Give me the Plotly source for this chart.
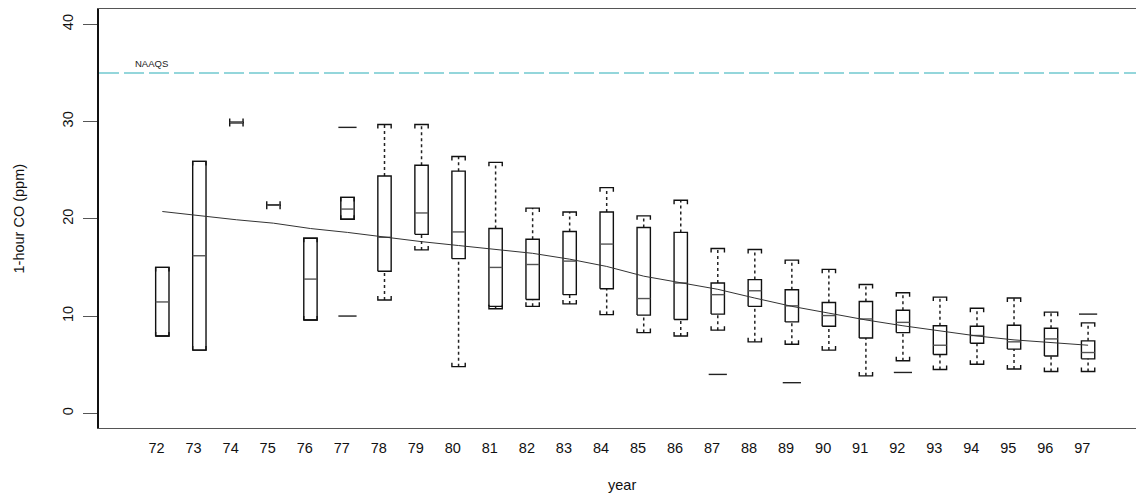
import plotly.graph_objects as go

# ---- data ----
years = [72, 73, 74, 75, 76, 77, 78, 79, 80, 81, 82, 83, 84, 85, 86, 87, 88, 89, 90, 91, 92, 93, 94, 95, 96, 97]
q1 =    [7.95, 6.5, 29.9, 21.4, 9.6, 19.95, 14.6, 18.4, 15.9, 11.0, 11.7, 12.2, 12.8, 10.1, 9.65, 10.2, 11.0, 9.4, 8.95, 7.75, 8.3, 6.05, 7.2, 6.6, 5.9, 5.6]
med =   [11.45, 16.2, 29.9, 21.4, 13.8, 21.0, 18.1, 20.6, 18.65, 15.0, 15.3, 15.65, 17.4, 11.8, 13.4, 12.2, 12.6, 11.05, 10.05, 9.7, 9.35, 7.0, 8.0, 7.35, 7.65, 6.25]
q3 =    [15.0, 25.9, 29.9, 21.4, 18.0, 22.2, 24.4, 25.5, 24.9, 19.0, 17.9, 18.7, 20.7, 19.1, 18.6, 13.4, 13.75, 12.7, 11.4, 11.5, 10.6, 9.0, 8.95, 9.05, 8.75, 7.45]
lo =    [7.95, 6.5, 29.9, 21.4, 9.6, 19.95, 11.65, 16.8, 4.8, 10.75, 11.0, 11.25, 10.15, 8.3, 7.95, 8.55, 7.35, 7.1, 6.5, 3.85, 5.4, 4.5, 5.05, 4.55, 4.3, 4.3]
hi =    [15.0, 25.9, 29.9, 21.4, 18.0, 22.2, 29.7, 29.7, 26.4, 25.8, 21.1, 20.7, 23.2, 20.3, 21.9, 16.95, 16.85, 15.75, 14.8, 13.25, 12.4, 11.95, 10.8, 11.85, 10.4, 9.3]
out_year = [77, 77, 87, 89, 92, 97]
out_val =  [29.4, 10.0, 4.0, 3.15, 4.2, 10.2]
smooth = [20.75, 20.3, 19.9, 19.55, 19.0, 18.6, 18.1, 17.65, 17.25, 16.85, 16.45, 15.85, 15.1, 14.1, 13.45, 12.75, 11.85, 11.0, 10.3, 9.6, 9.0, 8.5, 7.95, 7.55, 7.25, 7.0]
tick_labels = [str(y) for y in years]
naaqs = 35
y_ticks = [0, 10, 20, 30, 40]

HW = 0.18     # half box width (x units)
CAP = 0.41    # staple end tick length (y units)

bx, by = [], []
mx, my = [], []
wx, wy = [], []
sx, sy = [], []
for x, a, m, b, l, h in zip(years, q1, med, q3, lo, hi):
    bx += [x - HW, x + HW, x + HW, x - HW, x - HW, None]
    by += [a, a, b, b, a, None]
    mx += [x - HW, x + HW, None]
    my += [m, m, None]
    if h > b:
        wx += [x, x, None]
        wy += [b, h, None]
    if l < a:
        wx += [x, x, None]
        wy += [l, a, None]
    sx += [x - HW, x - HW, x + HW, x + HW, None]
    sy += [h - CAP, h, h, h - CAP, None]
    sx += [x - HW, x - HW, x + HW, x + HW, None]
    sy += [l + CAP, l, l, l + CAP, None]

fig = go.Figure()
fig.add_trace(go.Scatter(x=wx, y=wy, mode="lines", line=dict(color="#222", width=1.5, dash="dot"),
                         hoverinfo="skip", showlegend=False))
fig.add_trace(go.Scatter(x=sx, y=sy, mode="lines", line=dict(color="#111", width=1.4),
                         hoverinfo="skip", showlegend=False))
fig.add_trace(go.Scatter(x=bx, y=by, mode="lines", line=dict(color="#111", width=1.4),
                         hoverinfo="skip", showlegend=False))
fig.add_trace(go.Scatter(x=mx, y=my, mode="lines", line=dict(color="#555", width=1.4),
                         hoverinfo="skip", showlegend=False))
fig.add_trace(go.Scatter(x=out_year, y=out_val, mode="markers",
                         marker=dict(symbol="line-ew", size=13, line=dict(color="#222", width=1.4)),
                         hoverinfo="skip", showlegend=False))
fig.add_trace(go.Scatter(x=years, y=smooth, mode="lines", line=dict(color="#333", width=1),
                         hoverinfo="skip", showlegend=False))

fig.add_shape(type="line", xref="paper", x0=0, x1=1, yref="y", y0=naaqs, y1=naaqs,
              line=dict(color="#72c9d0", width=1.5, dash="20px,5px"))
fig.add_annotation(x=years[0] - 0.28, y=naaqs, xref="x", yref="y", text="NAAQS", showarrow=False,
                   xanchor="center", yanchor="bottom", yshift=2, font=dict(size=9.5, color="#222"))
fig.add_annotation(x=0, y=0.5, xref="paper", yref="paper", text="1-hour CO (ppm)", showarrow=False,
                   textangle=-90, xanchor="center", yanchor="middle", xshift=-81,
                   font=dict(size=14.5, color="#111"))
fig.add_annotation(x=0.5, y=0, xref="paper", yref="paper", text="year", showarrow=False,
                   xanchor="center", yanchor="middle", yshift=-57, font=dict(size=14.5, color="#111"))

fig.update_layout(
    width=1136, height=489,
    margin=dict(l=91, r=0, t=1, b=69),
    paper_bgcolor="white", plot_bgcolor="white",
    font=dict(family="Liberation Sans, Arial, sans-serif", size=14.5, color="#111"),
    xaxis=dict(range=[70.29, 98.51], tickvals=[y - 0.155 for y in years], ticktext=tick_labels,
               showgrid=False, zeroline=False, showline=True, linecolor="#555", linewidth=1.2,
               mirror=True, ticks="outside", ticklen=6, tickcolor="rgba(0,0,0,0)"),
    yaxis=dict(range=[-1.51, 41.57], tickvals=y_ticks, tickangle=-90,
               showgrid=False, zeroline=False, showline=True, linecolor="#111", linewidth=1.5,
               ticks="outside", ticklen=14, tickcolor="#555", ticklabelstandoff=4),
)

fig.write_html("out.html")
